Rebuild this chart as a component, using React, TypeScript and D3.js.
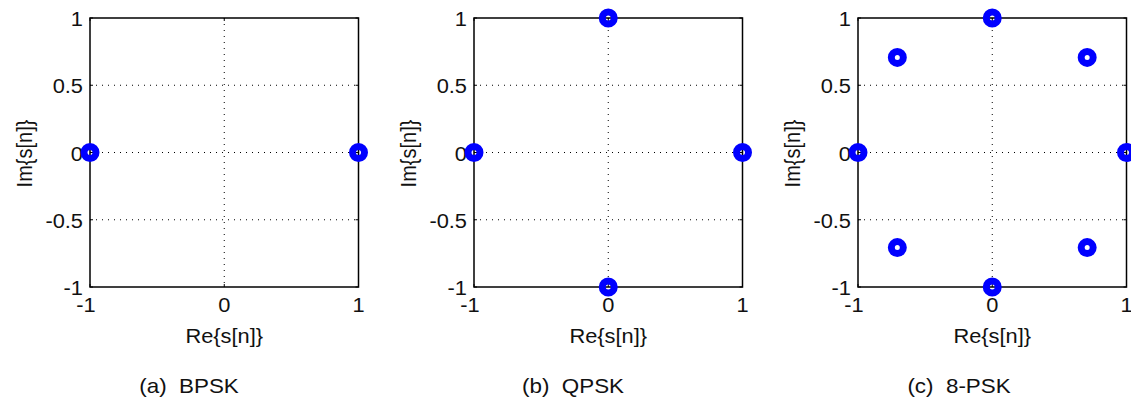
import React from "react";
import * as d3 from "d3";

const xTicks = [-1, 0, 1];
const yTicks = [-1, -0.5, 0, 0.5, 1];
const xGrid = [0];
const yGrid = [-0.5, 0, 0.5];

const bpskRe = [-1, 1];
const bpskIm = [0, 0];
const qpskRe = [1, 0, -1, 0];
const qpskIm = [0, 1, 0, -1];
const psk8Re = [1, 0.7071, 0, -0.7071, -1, -0.7071, 0, 0.7071];
const psk8Im = [0, 0.7071, 1, 0.7071, 0, -0.7071, -1, -0.7071];

const captions = ["(a)  BPSK", "(b)  QPSK", "(c)  8-PSK"];

const panels = [
  { re: bpskRe, im: bpskIm, left: 90, caption: captions[0], capX: 189 },
  { re: qpskRe, im: qpskIm, left: 474, caption: captions[1], capX: 573 },
  { re: psk8Re, im: psk8Im, left: 858, caption: captions[2], capX: 959 },
];

const W = 268.5;
const TOP = 18;
const H = 269;
const FONT = "'Liberation Sans', Arial, Helvetica, sans-serif";
const SX = 1.12;

function T({ x, y, anchor, size, children }: any) {
  return (
    <text transform={`translate(${x},${y}) scale(${SX},1)`} textAnchor={anchor} fontSize={size}
      fontFamily={FONT} fill="#111" style={{ whiteSpace: "pre" }}>
      {children}
    </text>
  );
}

function Panel({ p }: { p: (typeof panels)[number] }) {
  const x = d3.scaleLinear().domain([-1, 1]).range([p.left, p.left + W]);
  const y = d3.scaleLinear().domain([-1, 1]).range([TOP + H, TOP]);
  const pts = d3.zip(p.re, p.im);
  return (
    <g>
      {xGrid.map((g) => (
        <line key={"xg" + g} x1={x(g)} x2={x(g)} y1={TOP} y2={TOP + H}
          stroke="#000" strokeWidth={1} strokeDasharray="1,5" />
      ))}
      {yGrid.map((g) => (
        <line key={"yg" + g} x1={p.left} x2={p.left + W} y1={y(g)} y2={y(g)}
          stroke="#000" strokeWidth={1} strokeDasharray="1,5" />
      ))}
      {xTicks.map((t) => (
        <g key={"xt" + t}>
          <line x1={x(t)} x2={x(t)} y1={TOP + H} y2={TOP + H - 3} stroke="#000" />
          <line x1={x(t)} x2={x(t)} y1={TOP} y2={TOP + 3} stroke="#000" />
          <T x={x(t) - (t < 0 ? 4 : 0)} y={TOP + H + 25} anchor="middle" size={19.5}>{String(t)}</T>
        </g>
      ))}
      {yTicks.map((t) => (
        <g key={"yt" + t}>
          <line x1={p.left} x2={p.left + 3} y1={y(t)} y2={y(t)} stroke="#000" />
          <line x1={p.left + W} x2={p.left + W - 3} y1={y(t)} y2={y(t)} stroke="#000" />
          <T x={p.left - 7} y={y(t) + 8} anchor="end" size={19.5}>{String(t)}</T>
        </g>
      ))}
      <rect x={p.left} y={TOP} width={W} height={H} fill="none" stroke="#000" strokeWidth={1.5} />
      <T x={p.left + W / 2} y={TOP + H + 56} anchor="middle" size={19.5}>
        {"Re{s[n]}"}
      </T>
      <text transform={`translate(${p.left - 58},${TOP + H / 2 + 1}) rotate(-90) scale(1,${SX})`}
        textAnchor="middle" fontSize={20} fontFamily={FONT} fill="#111">
        {"Im{s[n]}"}
      </text>
      <T x={p.capX} y={393} anchor="middle" size={20}>{p.caption}</T>
      {pts.map(([a, b], i) => (
        <circle key={i} cx={x(a)} cy={y(b)} r={6} fill="none" stroke="#0000ff" strokeWidth={7} />
      ))}
    </g>
  );
}

export default function App() {
  return (
    <svg width={1131} height={401} style={{ position: "absolute", left: 0, top: 0, background: "#fff" }}>
      <rect width={1131} height={401} fill="#fff" />
      {panels.map((p, i) => (
        <Panel key={i} p={p} />
      ))}
    </svg>
  );
}
